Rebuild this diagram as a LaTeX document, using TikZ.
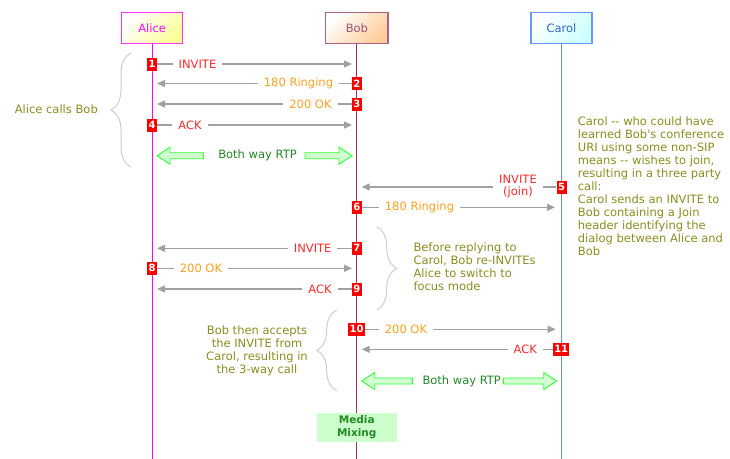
\documentclass[tikz,border=0pt]{standalone}
\usepackage{fontspec}
\setmainfont{DejaVu Sans}[Ligatures=TeXOff]
\usetikzlibrary{calc,decorations.pathreplacing,arrows.meta}
\definecolor{alicec}{RGB}{255,0,255}
\definecolor{aliceb}{RGB}{255,51,255}
\definecolor{alicef}{RGB}{255,255,153}
\definecolor{bobb}{RGB}{176,96,128}
\definecolor{bobf}{RGB}{255,204,153}
\definecolor{bobt}{RGB}{153,85,119}
\definecolor{bobl}{RGB}{153,51,102}
\definecolor{carolb}{RGB}{102,153,255}
\definecolor{carolf}{RGB}{204,255,255}
\definecolor{carolt}{RGB}{51,102,204}
\definecolor{caroll}{RGB}{102,136,255}
\definecolor{msgred}{RGB}{255,40,40}
\definecolor{msgorange}{RGB}{255,160,30}
\definecolor{arrowgray}{RGB}{160,160,160}
\definecolor{notec}{RGB}{140,140,30}
\definecolor{bracec}{RGB}{205,205,205}
\definecolor{rtpline}{RGB}{51,255,51}
\definecolor{rtpfill}{RGB}{210,255,210}
\definecolor{rtptext}{RGB}{34,136,34}
\definecolor{mixfill}{RGB}{204,255,204}
\definecolor{mixtext}{RGB}{34,139,34}
\newcommand\rtppiece[3]{%
  \draw[rtp] (#1) -- ($(#1)+(#3*13,-8.5)$) -- ($(#1)+(#3*13,-3)$) -- ($(#2)+(0,-3)$)
    -- ($(#2)+(0,3)$) -- ($(#1)+(#3*13,3)$) -- ($(#1)+(#3*13,8.5)$) -- cycle;}
\tikzset{
  txt/.style={font=\fontsize{11.5}{13}\selectfont},
  head/.style={draw, line width=1.2pt, minimum width=61pt, minimum height=31.5pt, inner sep=0pt, txt},
  numbox/.style={fill=red, text=white, font=\fontsize{10}{10}\selectfont\bfseries,
    minimum width=10pt, minimum height=13pt, inner sep=1.2pt},
  msg/.style={draw=arrowgray, line width=1.4pt, -{Triangle[length=8pt,width=7pt]}},
  lbl/.style={fill=white, inner xsep=6pt, inner ysep=1pt, txt},
  redl/.style={lbl, text=msgred},
  orl/.style={lbl, text=msgorange},
  note/.style={txt, text=notec, inner sep=0pt},
  brc/.style={draw=bracec, line width=1pt, decorate, decoration={brace, amplitude=20pt}},
  rtp/.style={draw=rtpline, fill=rtpfill, line width=0.9pt, line join=miter},
  rtpl/.style={txt, text=rtptext, inner sep=0pt},
  life/.style={line width=1pt}
}
\begin{document}
\begin{tikzpicture}[x=1pt,y=-1pt]
\useasboundingbox (0,0) rectangle (730,458);
% heads
\node[head, draw=aliceb, top color=white, middle color=alicef, bottom color=alicef, shading angle=45, text=alicec] (alice) at (152.2,27.9) {Alice};
\node[head, draw=bobb, top color=white, middle color=bobf, bottom color=bobf, shading angle=45, text=bobt, minimum width=62.3pt] (bob) at (356.9,27.9) {Bob};
\node[head, draw=carolb, top color=white, middle color=carolf, bottom color=carolf, shading angle=45, text=carolt] (carol) at (561.5,27.9) {Carol};
\coordinate (aend) at (152.2,460);
\coordinate (bend) at (356.9,460);
\coordinate (cend) at (561.5,460);
\draw[life, alicec] (alice) -- (aend);
\draw[life, bobl] (bob) -- (bend);
\draw[life, caroll] (carol) -- (cend);
% braces
\coordinate (b1s) at (131,167); \coordinate (b1e) at (131,53);
\draw[brc] (b1s) -- (b1e);
\coordinate (b2s) at (376.7,226.7); \coordinate (b2e) at (376.7,310);
\draw[brc] (b2s) -- (b2e);
\coordinate (b3s) at (336.7,390.7); \coordinate (b3e) at (336.7,310);
\draw[brc] (b3s) -- (b3e);
% message 1
\node[numbox] (n1) at (152.2,64) {1};
\coordinate (t1) at (352,64);
\draw[msg] (n1) -- (t1);
\node[redl] (l1) at (197.5,64) {INVITE};
% message 2
\node[numbox] (n2) at (356.9,83.5) {2};
\coordinate (t2) at (157,83.5);
\draw[msg] (n2) -- (t2);
\node[orl] (l2) at (298.5,83.5) {180 Ringing};
% message 3
\node[numbox] (n3) at (356.9,104) {3};
\coordinate (t3) at (157,104);
\draw[msg] (n3) -- (t3);
\node[orl] (l3) at (310.5,104) {200 OK};
% message 4
\node[numbox] (n4) at (152.2,125) {4};
\coordinate (t4) at (352,125);
\draw[msg] (n4) -- (t4);
\node[redl] (l4) at (190,125) {ACK};
% RTP 1
\node[rtpl] (rtp1) at (257.5,155.7) {Both way RTP};
\coordinate (r1a) at (157,155.7); \coordinate (r1b) at (352,155.7);
\coordinate (r1l) at (203.3,155.7); \coordinate (r1r) at (305,155.7);
\rtppiece{r1a}{r1l}{1}
\rtppiece{r1b}{r1r}{-1}
% message 5
\node[numbox] (n5) at (561.5,187) {5};
\coordinate (t5) at (361.7,187);
\draw[msg] (n5) -- (t5);
\node[redl, align=center, font=\fontsize{11.5}{12.7}\selectfont] (l5) at (518,186.5) {INVITE\\(join)};
% message 6
\node[numbox] (n6) at (356.9,207.3) {6};
\coordinate (t6) at (555,207.3);
\draw[msg] (n6) -- (t6);
\node[orl] (l6) at (419.5,207.3) {180 Ringing};
% message 7
\node[numbox] (n7) at (356.9,248.3) {7};
\coordinate (t7) at (157,248.3);
\draw[msg] (n7) -- (t7);
\node[redl] (l7) at (312.7,248.3) {INVITE};
% message 8
\node[numbox] (n8) at (152.2,268.3) {8};
\coordinate (t8) at (352,268.3);
\draw[msg] (n8) -- (t8);
\node[orl] (l8) at (201,268.3) {200 OK};
% message 9
\node[numbox] (n9) at (356.9,289) {9};
\coordinate (t9) at (157,289);
\draw[msg] (n9) -- (t9);
\node[redl] (l9) at (320,289) {ACK};
% message 10
\node[numbox] (n10) at (356.5,329.3) {10};
\coordinate (t10) at (555.7,329.3);
\draw[msg] (n10) -- (t10);
\node[orl] (l10) at (406,329.3) {200 OK};
% message 11
\node[numbox] (n11) at (561.2,349.3) {11};
\coordinate (t11) at (361.7,349.3);
\draw[msg] (n11) -- (t11);
\node[redl] (l11) at (525.3,349.3) {ACK};
% RTP 2
\node[rtpl] (rtp2) at (461.7,381) {Both way RTP};
\coordinate (r2a) at (361.7,381); \coordinate (r2b) at (556.7,381);
\coordinate (r2l) at (412.3,381); \coordinate (r2r) at (503.3,381);
\rtppiece{r2a}{r2l}{1}
\rtppiece{r2b}{r2r}{-1}
% notes
\node[note, anchor=east] (nalice) at (98,109.5) {Alice calls Bob};
\node[note, anchor=north west, align=left] (ncarol) at (577.7,116.5) {Carol -- who could have\\learned Bob's conference\\URI using some non-SIP\\means -- wishes to join,\\resulting in a three party\\call:\\Carol sends an INVITE to\\Bob containing a Join\\header identifying the\\dialog between Alice and\\Bob};
\node[note, anchor=north west, align=left] (nbob) at (413.3,242.5) {Before replying to\\Carol, Bob re-INVITEs\\Alice to switch to\\focus mode};
\node[note, align=center] (naccept) at (257,350.5) {Bob then accepts\\the INVITE from\\Carol, resulting in\\the 3-way call};
% media mixing
\node[fill=mixfill, minimum width=80pt, minimum height=29pt, inner sep=0pt, text=mixtext, align=center,
  font=\fontsize{10.5}{13}\selectfont\bfseries] (mix) at (356.7,427.2) {Media\\Mixing};
\end{tikzpicture}
\end{document}
